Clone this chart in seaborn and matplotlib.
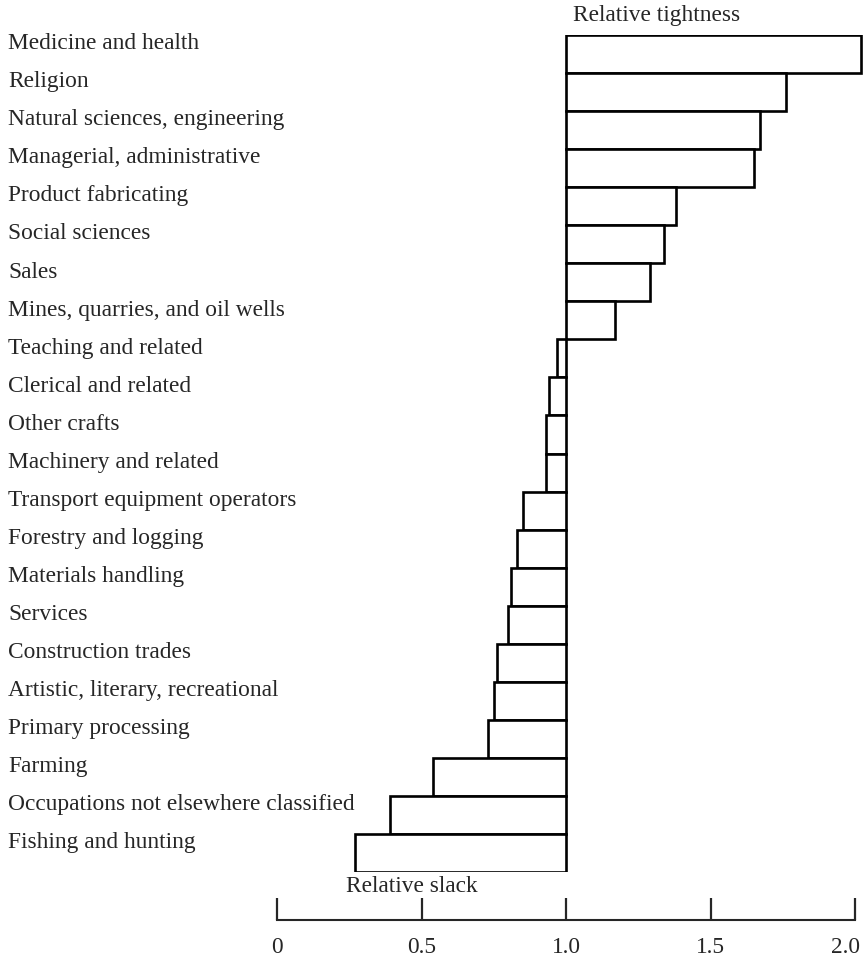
import numpy as np
import pandas as pd
import matplotlib
matplotlib.use("Agg")
import matplotlib.pyplot as plt
import matplotlib.transforms as mtransforms
import seaborn as sns

# Occupational groups, tightest at the top
occupations = [
    "Medicine and health",
    "Religion",
    "Natural sciences, engineering",
    "Managerial, administrative",
    "Product fabricating",
    "Social sciences",
    "Sales",
    "Mines, quarries, and oil wells",
    "Teaching and related",
    "Clerical and related",
    "Other crafts",
    "Machinery and related",
    "Transport equipment operators",
    "Forestry and logging",
    "Materials handling",
    "Services",
    "Construction trades",
    "Artistic, literary, recreational",
    "Primary processing",
    "Farming",
    "Occupations not elsewhere classified",
    "Fishing and hunting",
]
# ratio (1.0 = balance)
ratio = [2.02, 1.76, 1.67, 1.65, 1.38, 1.34, 1.29, 1.17,
         0.97, 0.94, 0.93, 0.93, 0.85, 0.83, 0.81, 0.80,
         0.76, 0.75, 0.73, 0.54, 0.39, 0.27]
tick_vals = [0, 0.5, 1.0, 1.5, 2.0]
tick_labels = ["0", "0.5", "1.0", "1.5", "2.0"]

df = pd.DataFrame({"occupation": occupations, "ratio": ratio})
df["delta"] = df["ratio"] - 1.0

sns.set_style("white")
plt.rcParams["font.family"] = ["Liberation Serif", "DejaVu Serif"]
FS = 16.8

W, H = 864, 958
fig = plt.figure(figsize=(W / 100, H / 100), dpi=100)
# axes: x=0 at px 277, 289 px per unit; bars span px 35..872 vertically
x0_px, unit_px = 277, 289
xmax = 2.05
ax = fig.add_axes([x0_px / W, 1 - 872 / H, xmax * unit_px / W, (872 - 35) / H])

sns.barplot(data=df, x="delta", y="occupation", orient="h", left=1.0,
            width=1.0, color="white", edgecolor="black", linewidth=1.9,
            saturation=1, ax=ax)

n = len(occupations)
ax.set_xlim(0, xmax)
ax.set_ylim(n - 0.5, -0.5)
ax.set_ylabel("")
ax.set_xlabel("")
ax.set_yticks([])
for s in ["top", "right", "left"]:
    ax.spines[s].set_visible(False)
ax.spines["bottom"].set_position(("outward", 48 * 0.72))
ax.spines["bottom"].set_bounds(0, 2.0)
ax.spines["bottom"].set_linewidth(1.5)
ax.set_xticks(tick_vals)
ax.set_xticklabels(tick_labels)
ax.tick_params(axis="x", direction="in", length=16, width=1.6, pad=12,
               labelsize=FS, bottom=True)
# keep the last tick label inside the page
last = ax.get_xticklabels()[-1]
last.set_transform(last.get_transform() +
                   mtransforms.ScaledTranslation(-10 / 100, 0, fig.dpi_scale_trans))

# category labels, left-aligned at the figure edge, a bit above bar centre
trans = mtransforms.blended_transform_factory(fig.transFigure, ax.transData)
for i, lab in enumerate(occupations):
    ax.text(8 / W, i - 0.27, lab, transform=trans, ha="left", va="center",
            fontsize=FS)

fig.text(573 / W, 1 - 15 / H, "Relative tightness", ha="left", va="center",
         fontsize=FS)
fig.text(346 / W, 1 - 886 / H, "Relative slack", ha="left", va="center",
         fontsize=FS)

fig.savefig("out.png", dpi=100, facecolor="white")
